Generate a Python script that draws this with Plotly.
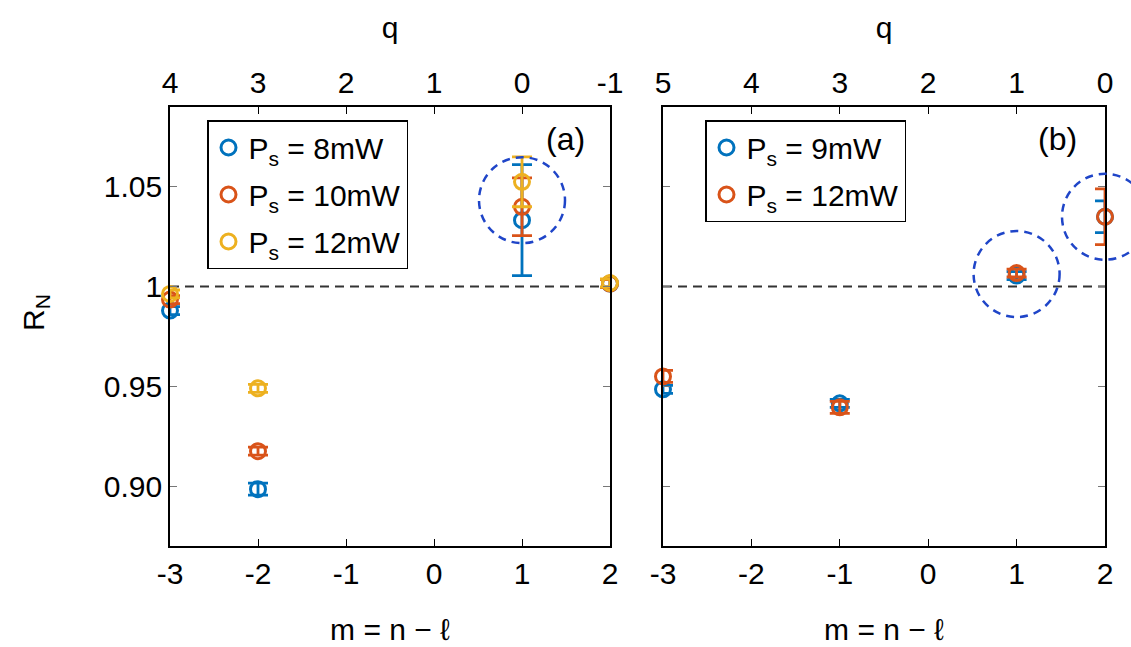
import plotly.graph_objects as go

# ---------------- data ----------------
m_vals_a = [-3, -2, 1, 2]
q_ticks_a = [4, 3, 2, 1, 0, -1]
m_vals_b = [-3, -1, 1, 2]
q_ticks_b = [5, 4, 3, 2, 1, 0]

labels_a = ["P<sub>s</sub> = 8mW", "P<sub>s</sub> = 10mW", "P<sub>s</sub> = 12mW"]
rn_a_8 = [0.988, 0.8985, 1.0333, 1.0015]
err_a_8 = [0.002, 0.003, 0.0278, 0.002]
rn_a_10 = [0.9935, 0.9175, 1.0400, 1.0015]
err_a_10 = [0.002, 0.002, 0.0145, 0.002]
rn_a_12 = [0.9963, 0.9490, 1.0525, 1.0018]
err_a_12 = [0.002, 0.002, 0.0125, 0.002]

labels_b = ["P<sub>s</sub> = 9mW", "P<sub>s</sub> = 12mW"]
rn_b_9 = [0.9485, 0.9415, 1.0055, 1.0350]
err_b_9 = [0.002, 0.002, 0.002, 0.008]
rn_b_12 = [0.9550, 0.9395, 1.0068, 1.0350]
err_b_12 = [0.003, 0.003, 0.002, 0.014]

# highlighted points (m, R_N centre of dashed circle)
circles_a = [(1, 1.0433)]
circles_b = [(1, 1.0063), (2, 1.0350)]

x_range = [-3, 2]
y_range = [0.87, 1.09]
y_ticks = [0.90, 0.95, 1.0, 1.05]
y_ticktext = ["0.90", "0.95", "1", "1.05"]
x_ticks = [-3, -2, -1, 0, 1, 2]

colors = ["#0072BD", "#D95319", "#EDB120"]
FONT = "Liberation Sans, Arial, sans-serif"
FS = 30

# ---------------- figure ----------------
W, H = 1131, 647
fig = go.Figure()

def add_series(x, y, e, name, color, xa, ya, legend):
    fig.add_trace(go.Scatter(
        x=x, y=y, mode="markers", name=name, legendgroup=name + xa,
        xaxis=xa, yaxis=ya, legend=legend, cliponaxis=False,
        marker=dict(symbol="circle-open", size=15, color=color,
                    line=dict(width=3, color=color)),
        error_y=dict(type="data", array=e, visible=True, color=color,
                     thickness=2.8, width=10),
    ))

add_series(m_vals_a, rn_a_8, err_a_8, labels_a[0], colors[0], "x", "y", "legend")
add_series(m_vals_a, rn_a_10, err_a_10, labels_a[1], colors[1], "x", "y", "legend")
add_series(m_vals_a, rn_a_12, err_a_12, labels_a[2], colors[2], "x", "y", "legend")
add_series(m_vals_b, rn_b_9, err_b_9, labels_b[0], colors[0], "x2", "y2", "legend2")
add_series(m_vals_b, rn_b_12, err_b_12, labels_b[1], colors[1], "x2", "y2", "legend2")

# invisible traces to anchor top q axes
fig.add_trace(go.Scatter(x=q_ticks_a, y=[None] * len(q_ticks_a), xaxis="x3", yaxis="y",
                         showlegend=False, hoverinfo="skip"))
fig.add_trace(go.Scatter(x=q_ticks_b, y=[None] * len(q_ticks_b), xaxis="x4", yaxis="y2",
                         showlegend=False, hoverinfo="skip"))

# plot area in pixels
L_a, R_a = 170, 610
L_b, R_b = 663, 1105
T, B = 107, 546
dom_a = [L_a / W, R_a / W]
dom_b = [L_b / W, R_b / W]
dom_y = [1 - B / H, 1 - T / H]

tick_common = dict(ticks="inside", ticklen=7, tickwidth=1.3, showgrid=False, zeroline=False,
                   showline=True, linecolor="black", linewidth=1.6, automargin=False,
                   tickfont=dict(family=FONT, size=FS, color="black"))
title_font = dict(family=FONT, size=FS, color="black")

xb = dict(range=x_range, tickvals=x_ticks, ticktext=[str(v) for v in x_ticks],
          tickcolor="black", **tick_common)
fig.update_layout(
    xaxis=dict(domain=dom_a, anchor="y",
               title=dict(text="m = n \u2212 \u2113", font=title_font, standoff=30), **xb),
    xaxis2=dict(domain=dom_b, anchor="y2",
                title=dict(text="m = n \u2212 \u2113", font=title_font, standoff=30), **xb),
    xaxis3=dict(overlaying="x", side="top", anchor="y", range=[q_ticks_a[0], q_ticks_a[-1]],
                tickvals=q_ticks_a, ticktext=[str(v) for v in q_ticks_a], tickcolor="black",
                title=dict(text="q", font=title_font, standoff=19), **tick_common),
    xaxis4=dict(overlaying="x2", side="top", anchor="y2", range=[q_ticks_b[0], q_ticks_b[-1]],
                tickvals=q_ticks_b, ticktext=[str(v) for v in q_ticks_b], tickcolor="black",
                title=dict(text="q", font=title_font, standoff=19), **tick_common),
    yaxis=dict(domain=dom_y, anchor="x", range=y_range, tickvals=y_ticks, ticktext=y_ticktext,
               mirror="ticks", tickcolor="#777", **tick_common),
    yaxis2=dict(domain=dom_y, anchor="x2", range=y_range, tickvals=y_ticks, showticklabels=False,
                mirror="ticks", tickcolor="#777", **tick_common),
)

# y-axis label
fig.add_annotation(text="R<sub>N</sub>", xref="paper", yref="paper", x=35 / W, y=1 - 313 / H,
                   xanchor="center", yanchor="middle", textangle=-90, showarrow=False,
                   font=title_font)

# dashed reference lines at R_N = 1
for xa, ya in [("x", "y"), ("x2", "y2")]:
    fig.add_shape(type="line", xref=xa, yref=ya, x0=x_range[0], x1=x_range[1], y0=1, y1=1,
                  line=dict(color="#333333", width=2, dash="9px,6px"), layer="below")

# dashed highlight circles (radius in pixels -> domain fractions)
r_px = 43
for circs, xa, ya, (l, r) in [(circles_a, "x", "y", (L_a, R_a)), (circles_b, "x2", "y2", (L_b, R_b))]:
    for cm, cy in circs:
        fx = (cm - x_range[0]) / (x_range[1] - x_range[0])
        fy = (cy - y_range[0]) / (y_range[1] - y_range[0])
        rx = r_px / (r - l)
        ry = r_px / (B - T)
        fig.add_shape(type="circle", xref=f"{xa} domain", yref=f"{ya} domain",
                      x0=fx - rx, x1=fx + rx, y0=fy - ry, y1=fy + ry,
                      line=dict(color="#1f45c8", width=2.5, dash="8px,6px"), layer="above")

fig.add_annotation(text="(a)", xref="paper", yref="paper", x=565 / W, y=1 - 139 / H,
                   xanchor="center", yanchor="middle",
                   showarrow=False, font=dict(family=FONT, size=32, color="black"))
fig.add_annotation(text="(b)", xref="paper", yref="paper", x=1057 / W, y=1 - 139 / H,
                   xanchor="center", yanchor="middle",
                   showarrow=False, font=dict(family=FONT, size=32, color="black"))

legend_style = dict(bgcolor="white", bordercolor="black", borderwidth=1.5,
                    font=dict(family=FONT, size=FS, color="black"),
                    xanchor="left", yanchor="top", itemsizing="trace", tracegroupgap=5,
                    traceorder="grouped")
fig.update_layout(
    legend=dict(x=207 / W, y=1 - 120 / H, **legend_style),
    legend2=dict(x=705 / W, y=1 - 120 / H, **legend_style),
    width=W, height=H, autosize=False,
    margin=dict(l=0, r=0, t=0, b=0),
    paper_bgcolor="white", plot_bgcolor="white",
    font=dict(family=FONT, size=FS, color="black"),
)

fig.write_html("out.html", config={"displayModeBar": False},
               post_script="document.body.style.margin='0';document.body.style.overflow='hidden';")
